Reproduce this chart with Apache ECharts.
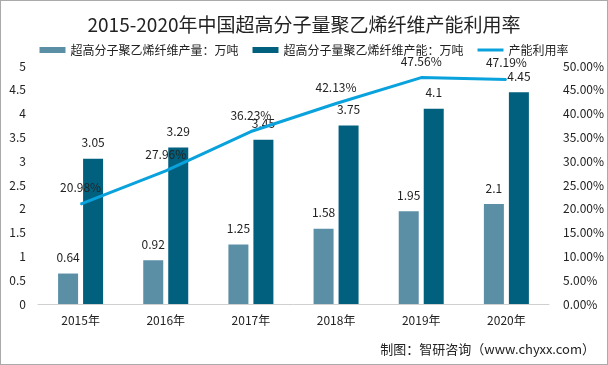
<!DOCTYPE html>
<html><head><meta charset="utf-8">
<script src="https://cdn.jsdelivr.net/npm/echarts@6/dist/echarts.min.js"></script>
<style>html,body{margin:0;padding:0;background:#fff}#c{width:608px;height:365px;box-sizing:border-box;border:1px solid #aaa}</style>
</head><body><div id="c"></div>
<script>
const categories = ['2015年','2016年','2017年','2018年','2019年','2020年'];
const output = [0.64, 0.92, 1.25, 1.58, 1.95, 2.1];
const capacity = [3.05, 3.29, 3.45, 3.75, 4.1, 4.45];
const utilization = [20.98, 27.96, 36.23, 42.13, 47.56, 47.19];
const seriesNames = ['超高分子聚乙烯纤维产量：万吨','超高分子量聚乙烯纤维产能：万吨','产能利用率'];

const font = '"Noto Sans CJK SC", "Microsoft YaHei", sans-serif';
const chart = echarts.init(document.getElementById('c'));
chart.setOption({
  animation: false,
  textStyle: {fontFamily: font},
  title: {text: '2015-2020年中国超高分子量聚乙烯纤维产能利用率', left: 'center', top: 9,
    textStyle: {fontSize: 19, fontWeight: 'normal', color: '#222', fontFamily: font}},
  legend: {top: 38, left: 'center', itemGap: 14, itemWidth: 26, itemHeight: 6,
    textStyle: {fontSize: 12, color: '#222'},
    data: [{name: seriesNames[0], icon: 'rect'}, {name: seriesNames[1], icon: 'rect'},
           {name: seriesNames[2], icon: 'path://M0,0h26v3h-26z'}]},
  grid: {left: 37, right: 58, top: 65, bottom: 60},
  xAxis: {type: 'category', data: categories,
    axisLine: {lineStyle: {color: '#d0d0d0'}}, axisTick: {show: false},
    axisLabel: {color: '#222', fontSize: 12, margin: 10}},
  yAxis: [
    {type: 'value', min: 0, max: 5, interval: 0.5, splitLine: {show: false},
     axisLine: {show: false}, axisTick: {show: false},
     axisLabel: {color: '#222', fontSize: 12, margin: 12}},
    {type: 'value', min: 0, max: 50, interval: 5, splitLine: {show: false},
     axisLine: {show: false}, axisTick: {show: false},
     axisLabel: {color: '#222', fontSize: 12, margin: 14, formatter: v => v.toFixed(2) + '%'}}
  ],
  series: [
    {name: seriesNames[0], type: 'bar', data: output, barWidth: 20, barGap: '25%',
     itemStyle: {color: '#5b8fa6'},
     label: {show: true, position: 'top', distance: 10, color: '#222', fontSize: 12}},
    {name: seriesNames[1], type: 'bar', data: capacity, barWidth: 20,
     itemStyle: {color: '#02607f'},
     label: {show: true, position: 'top', distance: 10, color: '#222', fontSize: 12}},
    {name: seriesNames[2], type: 'line', yAxisIndex: 1, data: utilization,
     symbol: 'circle', symbolSize: 1, showSymbol: true,
     lineStyle: {color: '#0aa2dc', width: 3}, itemStyle: {color: '#0aa2dc'},
     label: {show: true, position: 'top', distance: 10, color: '#222', fontSize: 12,
       formatter: p => p.value.toFixed(2) + '%'}}
  ],
  graphic: [{type: 'text', right: 12, bottom: 8,
    style: {text: '制图：智研咨询（www.chyxx.com）', fontSize: 13, fill: '#222', fontFamily: font}}]
});
</script></body></html>
